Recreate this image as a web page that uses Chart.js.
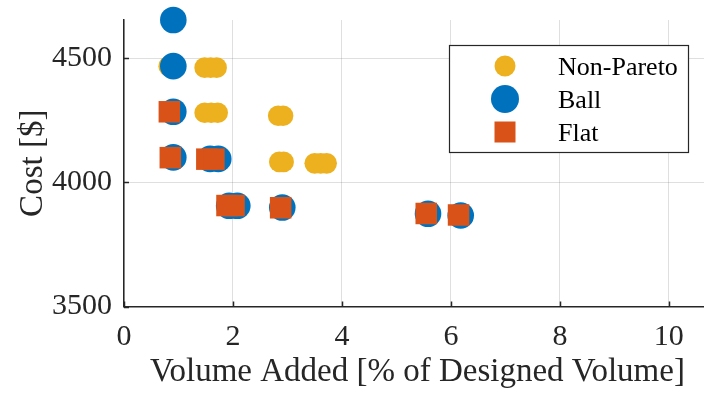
<!DOCTYPE html>
<html>
<head>
<meta charset="utf-8">
<style>
  html, body { margin: 0; padding: 0; background: #ffffff; overflow: hidden; }
  canvas { display: block; }
</style>
<script src="https://cdn.jsdelivr.net/npm/chart.js@4/dist/chart.umd.min.js"></script>
</head>
<body>
<canvas id="chart" width="726" height="393"></canvas>
<script>
// Designs that are not on the Pareto front
const npVolume = [0.82, 1.48, 1.59, 1.70, 1.48, 1.60, 1.72, 2.83, 2.92, 2.85, 2.93, 3.50, 3.61, 3.72];
const npCost   = [4469, 4463, 4463, 4463, 4281, 4281, 4281, 4269, 4269, 4083, 4083, 4077, 4077, 4077];

// Pareto designs, ball-shaped
const ballVolume = [0.905, 0.905, 0.905, 0.905, 1.58, 1.73, 1.93, 2.08, 2.905, 5.58, 6.18];
const ballCost   = [4655, 4469, 4285, 4101, 4095, 4095, 3906, 3906, 3899, 3874, 3867];

// Pareto designs, flat
const flatVolume = [0.832, 0.85, 1.52, 1.65, 1.89, 2.02, 2.875, 5.547, 6.14];
const flatCost   = [4285, 4100, 4094, 4094, 3907, 3907, 3898, 3875, 3869];

const seriesLabels = ['Non-Pareto', 'Ball', 'Flat'];
const xTickValues = [0, 2, 4, 6, 8, 10];
const yTickValues = [3500, 4000, 4500];

const AXIS = '#262626';
const GRID = 'rgba(38,38,38,0.15)';
const FONT = "'Liberation Serif', 'Times New Roman', Times, serif";

function toPoints(xs, ys) {
  return xs.map((x, i) => ({ x: x, y: ys[i] }));
}

// Tick marks pointing into the plot area
const innerTicks = {
  id: 'innerTicks',
  beforeDatasetsDraw(chart) {
    const { ctx, chartArea } = chart;
    const xs = chart.scales.x, ys = chart.scales.y;
    const len = 5;
    ctx.save();
    ctx.strokeStyle = AXIS;
    ctx.lineWidth = 1.5;
    ctx.beginPath();
    xs.ticks.forEach(t => {
      const px = Math.round(xs.getPixelForValue(t.value)) + 0.5;
      ctx.moveTo(px, chartArea.bottom);
      ctx.lineTo(px, chartArea.bottom - len);
    });
    ys.ticks.forEach(t => {
      const py = Math.round(ys.getPixelForValue(t.value)) + 0.5;
      ctx.moveTo(chartArea.left, py);
      ctx.lineTo(chartArea.left + len, py);
    });
    ctx.stroke();
    ctx.restore();
  }
};

// Boxed legend inside the plot, upper right
const boxLegend = {
  id: 'boxLegend',
  afterDraw(chart) {
    const { ctx } = chart;
    const box = { x: 449.5, y: 45.5, w: 239, h: 107 };
    ctx.save();
    ctx.fillStyle = '#ffffff';
    ctx.fillRect(box.x, box.y, box.w, box.h);
    ctx.strokeStyle = AXIS;
    ctx.lineWidth = 1.2;
    ctx.strokeRect(box.x, box.y, box.w, box.h);

    const rows = [66, 99, 132];
    const markerX = 505;
    const sizes = [10.5, 14, 10.5];
    const byLabel = {};
    chart.data.datasets.forEach(d => { byLabel[d.label] = d; });
    seriesLabels.forEach((label, i) => {
      const ds = byLabel[label];
      const cy = rows[i];
      ctx.fillStyle = ds.backgroundColor;
      if (ds.pointStyle === 'rect') {
        const s = sizes[i];
        ctx.fillRect(markerX - s, cy - s, 2 * s, 2 * s);
      } else {
        ctx.beginPath();
        ctx.arc(markerX, cy, sizes[i], 0, Math.PI * 2);
        ctx.fill();
      }
      ctx.fillStyle = '#000000';
      ctx.font = '26px ' + FONT;
      ctx.textAlign = 'left';
      ctx.textBaseline = 'alphabetic';
      ctx.fillText(label, 558, cy + 8.5);
    });
    ctx.restore();
  }
};

new Chart(document.getElementById('chart'), {
  type: 'scatter',
  data: {
    datasets: [
      {
        label: seriesLabels[0],
        data: toPoints(npVolume, npCost),
        backgroundColor: '#EDB120',
        pointStyle: 'circle',
        pointRadius: 10.3,
        borderWidth: 0,
        order: 3,
        clip: false
      },
      {
        label: seriesLabels[1],
        data: toPoints(ballVolume, ballCost),
        backgroundColor: '#0072BD',
        pointStyle: 'circle',
        pointRadius: 13.3,
        borderWidth: 0,
        order: 2,
        clip: false
      },
      {
        label: seriesLabels[2],
        data: toPoints(flatVolume, flatCost),
        backgroundColor: '#D95319',
        pointStyle: 'rect',
        pointRadius: 15.2,
        borderWidth: 0,
        order: 1,
        clip: false
      }
    ]
  },
  options: {
    responsive: false,
    animation: false,
    events: [],
    layout: { padding: { top: 20, right: 0, bottom: 0, left: 0 } },
    plugins: {
      legend: { display: false },
      tooltip: { enabled: false }
    },
    scales: {
      x: {
        type: 'linear',
        position: 'bottom',
        min: 0,
        max: 10.77,
        afterBuildTicks: s => { s.ticks = xTickValues.map(v => ({ value: v })); },
        afterFit: s => { s.height = 86.5; s.paddingLeft = 0; s.paddingRight = 0; },
        ticks: {
          callback: v => String(v),
          font: { family: FONT, size: 30 },
          color: AXIS,
          padding: 13,
          maxRotation: 0,
          autoSkip: false
        },
        grid: { color: GRID, lineWidth: 1, drawTicks: false },
        border: { color: AXIS, width: 1.5 },
        title: {
          display: true,
          text: 'Volume Added [% of Designed Volume]',
          font: { family: FONT, size: 33 },
          color: AXIS,
          padding: { top: 0, bottom: 0.5 }
        }
      },
      y: {
        type: 'linear',
        position: 'left',
        min: 3500,
        max: 4655,
        afterBuildTicks: s => { s.ticks = yTickValues.map(v => ({ value: v })); },
        afterFit: s => { s.width = 124; s.paddingTop = 0; s.paddingBottom = 0; },
        ticks: {
          callback: v => String(v),
          font: { family: FONT, size: 30 },
          color: AXIS,
          padding: 12,
          autoSkip: false
        },
        grid: { color: GRID, lineWidth: 1, drawTicks: false },
        border: { color: AXIS, width: 1.5 },
        title: {
          display: true,
          text: 'Cost [$]',
          font: { family: FONT, size: 33 },
          color: AXIS,
          padding: { top: 14, bottom: 0 }
        }
      }
    }
  },
  plugins: [innerTicks, boxLegend]
});
</script>
</body>
</html>
